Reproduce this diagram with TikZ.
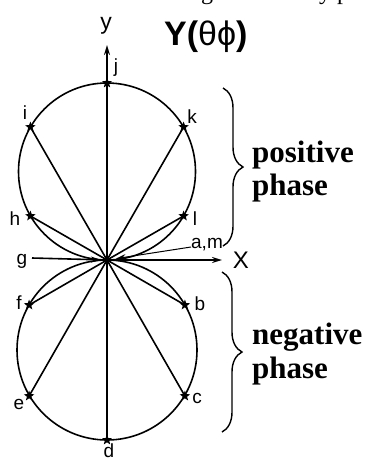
\documentclass[tikz,border=0pt]{standalone}
\usepackage{fontspec}
\setmainfont{Liberation Serif}
\setsansfont{Liberation Sans}
\usetikzlibrary{shapes.geometric,decorations.pathreplacing,arrows.meta}
\begin{document}
\begin{tikzpicture}[x=1pt,y=-1pt,
  ln/.style={line width=1.6pt},
  starpt/.style={star,star points=5,star point ratio=2.4,fill=black,draw=none,inner sep=0pt,minimum size=11pt},
  lab/.style={font=\sffamily\fontsize{19}{19}\selectfont,inner sep=0pt},
  arr/.style={-{Stealth[length=10pt,width=6pt]}},
  phase/.style={font=\rmfamily\bfseries\fontsize{31}{33}\selectfont,inner sep=0pt,anchor=base west},
  bracestyle/.style={line width=1.4pt,decorate,decoration={brace,amplitude=20pt}}
  ]
\useasboundingbox (0,0) rectangle (366,461);
% clipped line of text at the very top
\node[font=\rmfamily\fontsize{24}{24}\selectfont,anchor=base,inner sep=0pt] (cut1) at (207,-1) {g};
\node[font=\rmfamily\fontsize{24}{24}\selectfont,anchor=base,inner sep=0pt] (cut2) at (334,-1) {y p};
% title
\node[font=\sffamily\fontsize{34}{34}\selectfont,anchor=base west,inner sep=0pt] (title) at (164,45) {\textbf{Y(}θϕ\textbf{)}};
% origin and axes
\coordinate (O) at (107,260);
\coordinate (ytip) at (107,45);
\coordinate (xtip) at (222,260);
\coordinate (gstart) at (32,258);
\coordinate (amstart) at (191,247);
% lobes
\draw[ln] (107,171.5) circle[radius=88.5pt];
\draw[ln] (107,350) circle[radius=90pt];
% points
\node[starpt] (j) at (107,83) {};
\node[starpt] (i) at (30.4,127) {};
\node[starpt] (k) at (183.6,127) {};
\node[starpt] (h) at (30.4,216) {};
\node[starpt] (l) at (183.6,216) {};
\node[starpt] (f) at (29.1,305) {};
\node[starpt] (b) at (184.9,305) {};
\node[starpt] (e) at (29.1,396) {};
\node[starpt] (c) at (184.9,396) {};
\node[starpt] (d) at (107,440) {};
% radial lines
\foreach \p in {i,k,h,l,f,b,e,c,d}{\draw[ln] (O) -- (\p.center);}
\draw[ln,arr] (O) -- (ytip);
\draw[ln,arr] (O) -- (xtip);
\draw[ln,arr,shorten >=6pt] (gstart) -- (O);
\draw[line width=1pt,arr,shorten >=9pt] (amstart) -- (O);
% labels
\node[font=\sffamily\fontsize{23}{23}\selectfont,anchor=base,inner sep=0pt] (ylab) at (106,29) {y};
\node[font=\sffamily\fontsize{24}{24}\selectfont,anchor=base,inner sep=0pt] (xlab) at (241,268) {X};
\node[lab] (lj) at (116,68) {j};
\node[lab] (li) at (25,113) {i};
\node[lab] (lk) at (192,117) {k};
\node[lab] (lh) at (15,219) {h};
\node[lab] (ll) at (195,219) {l};
\node[lab,anchor=base] (lg) at (22,264) {g};
\node[lab] (lam) at (207,245) {a,m};
\node[lab] (lf) at (19,303) {f};
\node[lab] (lb) at (200,304) {b};
\node[lab] (le) at (19,404) {e};
\node[lab] (lc) at (197,398) {c};
\node[lab] (ld) at (109,451) {d};
% braces and phase labels
\draw[bracestyle] (223,88) -- (223,246);
\draw[bracestyle] (222,272) -- (222,432);
\node[phase] (pos) at (252,162) {positive};
\node[phase] (pos2) at (252,195) {phase};
\node[phase] (neg) at (252,344) {negative};
\node[phase] (neg2) at (252,378) {phase};
\end{tikzpicture}
\end{document}
